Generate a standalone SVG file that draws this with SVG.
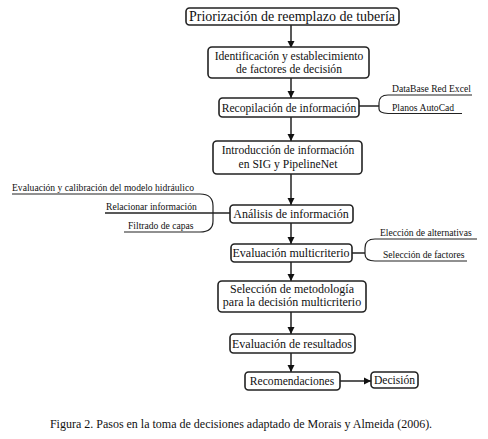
<svg xmlns="http://www.w3.org/2000/svg" width="488" height="439" viewBox="0 0 488 439">
<style>
.box{fill:#fff;stroke:#222;stroke-width:1.6}
.t{font-family:"Liberation Serif","DejaVu Serif",serif;fill:#111;text-anchor:middle}
.s{font-family:"Liberation Serif","DejaVu Serif",serif;fill:#111;font-size:9.6px}
.ln{fill:none;stroke:#222;stroke-width:1.5}
.thin{fill:none;stroke:#222;stroke-width:1.2}
</style>
<defs>
<marker id="ah" markerWidth="8" markerHeight="8" refX="7" refY="4" orient="auto" markerUnits="userSpaceOnUse">
<path d="M0,0.5 L7,4 L0,7.5 Z" fill="#111"/>
</marker>
</defs>
<rect width="488" height="439" fill="#fff"/>
<g id="connectors">
<line class="ln" x1="291" y1="25" x2="291" y2="48" marker-end="url(#ah)"/>
<line class="ln" x1="291" y1="78" x2="291" y2="98" marker-end="url(#ah)"/>
<line class="ln" x1="291" y1="117" x2="291" y2="141" marker-end="url(#ah)"/>
<line class="ln" x1="291" y1="174" x2="291" y2="205" marker-end="url(#ah)"/>
<line class="ln" x1="291" y1="223" x2="291" y2="244" marker-end="url(#ah)"/>
<line class="ln" x1="291" y1="262" x2="291" y2="281" marker-end="url(#ah)"/>
<line class="ln" x1="291" y1="312" x2="291" y2="334" marker-end="url(#ah)"/>
<line class="ln" x1="291" y1="353" x2="291" y2="372" marker-end="url(#ah)"/>
<line class="ln" x1="340" y1="381" x2="371" y2="381" marker-end="url(#ah)"/>
<line class="ln" x1="359" y1="106" x2="379" y2="106"/>
<path class="thin" d="M472,95 L388,95 Q379,95 379,103 L379,106 L379,109 Q379,113 388,113.5 L462,113.5"/>
<line class="ln" x1="105" y1="213" x2="230" y2="213"/>
<path class="thin" d="M12,194 L200,194 Q213,194 213,206 L213,221 Q213,232 200,232 L124,232"/>
<line class="ln" x1="352" y1="253" x2="365" y2="253"/>
<path class="thin" d="M477,239 L375,239 Q365,239 365,248 L365,253 L365,254 Q365,261 375,261 L467,261"/>
</g>
<g id="n1"><rect class="box" x="186" y="8" width="213" height="17" rx="3.5"/><text class="t" x="292" y="21" font-size="14">Priorización de reemplazo de tubería</text></g>
<g id="n2"><rect class="box" x="208" y="47" width="161" height="31" rx="4"/><text class="t" x="289" y="60" font-size="11.6">Identificación y establecimiento</text><text class="t" x="289" y="73" font-size="11.6">de factores de decisión</text></g>
<g id="n3"><rect class="box" x="219" y="98" width="140" height="19" rx="3.5"/><text class="t" x="289" y="111.5" font-size="11.6">Recopilación de información</text></g>
<g id="n3a"><text class="s" x="392" y="92">DataBase Red Excel</text><text class="s" x="392" y="110.5">Planos AutoCad</text></g>
<g id="n4"><rect class="box" x="213" y="141" width="149" height="33" rx="4"/><text class="t" x="288" y="154" font-size="11.6">Introducción de información</text><text class="t" x="288" y="168" font-size="11.6">en SIG y PipelineNet</text></g>
<g id="n5"><rect class="box" x="230" y="205" width="123" height="18" rx="3.5"/><text class="t" x="291" y="218" font-size="12">Análisis de información</text></g>
<g id="n5a"><text class="s" x="12" y="191">Evaluación y calibración del modelo hidráulico</text><text class="s" x="106" y="210">Relacionar información</text><text class="s" x="128" y="229">Filtrado de capas</text></g>
<g id="n6"><rect class="box" x="231" y="244" width="121" height="18" rx="3.5"/><text class="t" x="291" y="257" font-size="12">Evaluación multicriterio</text></g>
<g id="n6a"><text class="s" x="380" y="236">Elección de alternativas</text><text class="s" x="383" y="258">Selección de factores</text></g>
<g id="n7"><rect class="box" x="218" y="281" width="148" height="31" rx="4"/><text class="t" x="292" y="293" font-size="12">Selección de metodología</text><text class="t" x="292" y="306" font-size="12">para la decisión multicriterio</text></g>
<g id="n8"><rect class="box" x="230" y="334" width="125" height="19" rx="3.5"/><text class="t" x="292" y="347.5" font-size="12">Evaluación de resultados</text></g>
<g id="n9"><rect class="box" x="245" y="372" width="95" height="18" rx="3.5"/><text class="t" x="292" y="385" font-size="11.6">Recomendaciones</text></g>
<g id="n10"><rect class="box" x="371" y="372" width="47" height="16" rx="3.5"/><text class="t" x="394.5" y="384" font-size="11.6">Decisión</text></g>
<text class="t" x="241" y="428" font-size="12">Figura 2. Pasos en la toma de decisiones adaptado de Morais y Almeida (2006).</text>
</svg>
